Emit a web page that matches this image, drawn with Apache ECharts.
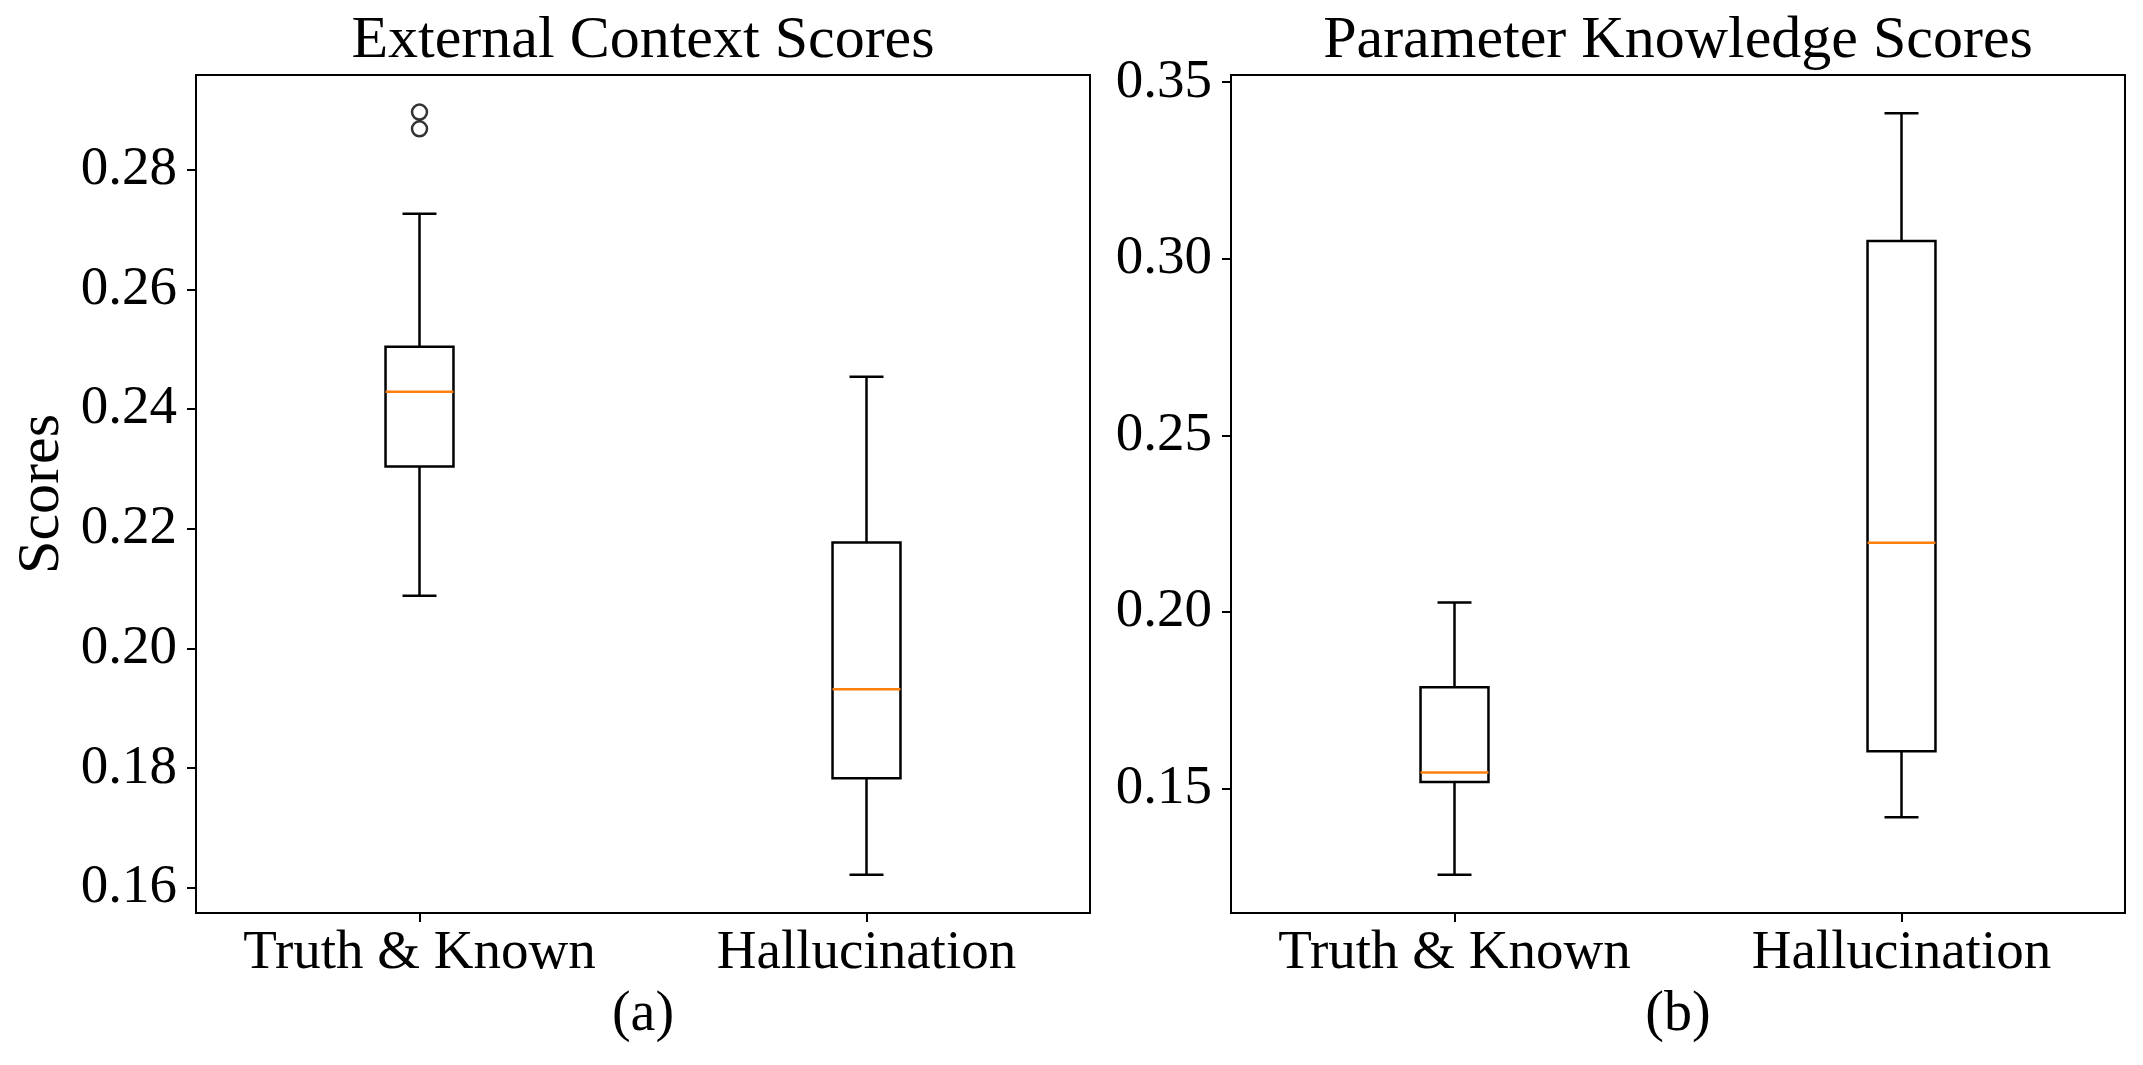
<!DOCTYPE html>
<html>
<head>
<meta charset="utf-8">
<script src="https://cdn.jsdelivr.net/npm/echarts@6/dist/echarts.min.js"></script>
<style>
html, body { margin: 0; padding: 0; background: #fff; }
#container { width: 2143px; height: 1065px; }
</style>
</head>
<body>
<div id="container"></div>
<script>
// categories of both panels
var categories = ['Truth & Known', 'Hallucination'];

// (a) External Context Scores: [min whisker, Q1, median, Q3, max whisker]
var extTruth = [0.2088, 0.2304, 0.2429, 0.2504, 0.2726];
var extHalluc = [0.1622, 0.1783, 0.1932, 0.2177, 0.2454];
var extOutliers = [0.2868, 0.2896];   // fliers of Truth & Known
var extTicks = [0.16, 0.18, 0.20, 0.22, 0.24, 0.26, 0.28];
var extRange = [0.1558, 0.2958];

// (b) Parameter Knowledge Scores
var parTruth = [0.1256, 0.1519, 0.1546, 0.1787, 0.2027];
var parHalluc = [0.1419, 0.1606, 0.2196, 0.3050, 0.3412];
var parTicks = [0.15, 0.20, 0.25, 0.30, 0.35];
var parRange = [0.1148, 0.3520];

var FONT = 'Liberation Serif';
var FS = 55;

// matplotlib-like box: black box + whiskers, orange median
function renderBox(params, api) {
	var x = api.value(0);
	var lo = api.coord([x, api.value(1)]);
	var q1 = api.coord([x, api.value(2)]);
	var md = api.coord([x, api.value(3)]);
	var q3 = api.coord([x, api.value(4)]);
	var hi = api.coord([x, api.value(5)]);
	var band = api.size([1, 0])[0];
	var hw = band * 0.076;   //半宽
	var cw = band * 0.038;   //cap
	var cx = lo[0];
	var st = {stroke: '#000', lineWidth: 2.5, fill: null};
	return {
		type: 'group',
		children: [
			{type: 'line', shape: {x1: cx, y1: q1[1], x2: cx, y2: lo[1]}, style: st},
			{type: 'line', shape: {x1: cx, y1: q3[1], x2: cx, y2: hi[1]}, style: st},
			{type: 'line', shape: {x1: cx - cw, y1: lo[1], x2: cx + cw, y2: lo[1]}, style: st},
			{type: 'line', shape: {x1: cx - cw, y1: hi[1], x2: cx + cw, y2: hi[1]}, style: st},
			{type: 'rect', shape: {x: cx - hw, y: q3[1], width: hw * 2, height: q1[1] - q3[1]}, style: st},
			{type: 'line', shape: {x1: cx - hw, y1: md[1], x2: cx + hw, y2: md[1]},
				style: {stroke: '#ff7f0e', lineWidth: 2.5}}
		]
	};
}

function makeX(idx) {
	return {
		type: 'category', gridIndex: idx, data: categories,
		axisLine: {show: true, lineStyle: {color: '#000', width: 2}},
		axisTick: {show: true, alignWithLabel: true, interval: 0, length: 9, lineStyle: {color: '#000', width: 2}},
		axisLabel: {color: '#000', fontFamily: FONT, fontSize: FS, margin: 13, interval: 0, hideOverlap: false},
		splitLine: {show: false}
	};
}

function makeY(idx, range, ticks) {
	return {
		type: 'value', gridIndex: idx, min: range[0], max: range[1],
		axisLine: {show: true, lineStyle: {color: '#000', width: 2}},
		axisTick: {show: true, customValues: ticks, length: 9, lineStyle: {color: '#000', width: 2}},
		axisLabel: {
			customValues: ticks, color: '#000', fontFamily: FONT, fontSize: FS, margin: 19,
			formatter: function (v) { return v.toFixed(2); }
		},
		splitLine: {show: false}
	};
}

function txt(x, y, s, size, rot) {
	return {
		type: 'text', x: x, y: y, rotation: rot || 0,
		style: {text: s, fill: '#000', font: size + 'px "' + FONT + '"', textAlign: 'center', textVerticalAlign: 'middle'}
	};
}

var chart = echarts.init(document.getElementById('container'));
chart.setOption({
	animation: false,
	backgroundColor: '#fff',
	grid: [
		{left: 196, top: 75, width: 894, height: 838, show: true, borderColor: '#000', borderWidth: 2},
		{left: 1231, top: 75, width: 894, height: 838, show: true, borderColor: '#000', borderWidth: 2}
	],
	xAxis: [makeX(0), makeX(1)],
	yAxis: [makeY(0, extRange, extTicks), makeY(1, parRange, parTicks)],
	graphic: [
		txt(643, 41, 'External Context Scores', 60),
		txt(1678, 41, 'Parameter Knowledge Scores', 60),
		txt(643, 1015, '(a)', 56),
		txt(1678, 1015, '(b)', 56),
		txt(42, 494, 'Scores', 60, Math.PI / 2)
	],
	series: [
		{
			type: 'custom', xAxisIndex: 0, yAxisIndex: 0, renderItem: renderBox,
			encode: {x: 0, y: [1, 2, 3, 4, 5]},
			data: [[0].concat(extTruth), [1].concat(extHalluc)]
		},
		{
			type: 'scatter', xAxisIndex: 0, yAxisIndex: 0, symbol: 'circle', symbolSize: 15,
			itemStyle: {color: 'rgba(0,0,0,0)', borderColor: '#000', borderWidth: 2.5},
			data: extOutliers.map(function (v) { return [0, v]; })
		},
		{
			type: 'custom', xAxisIndex: 1, yAxisIndex: 1, renderItem: renderBox,
			encode: {x: 0, y: [1, 2, 3, 4, 5]},
			data: [[0].concat(parTruth), [1].concat(parHalluc)]
		}
	]
});
</script>
</body>
</html>
